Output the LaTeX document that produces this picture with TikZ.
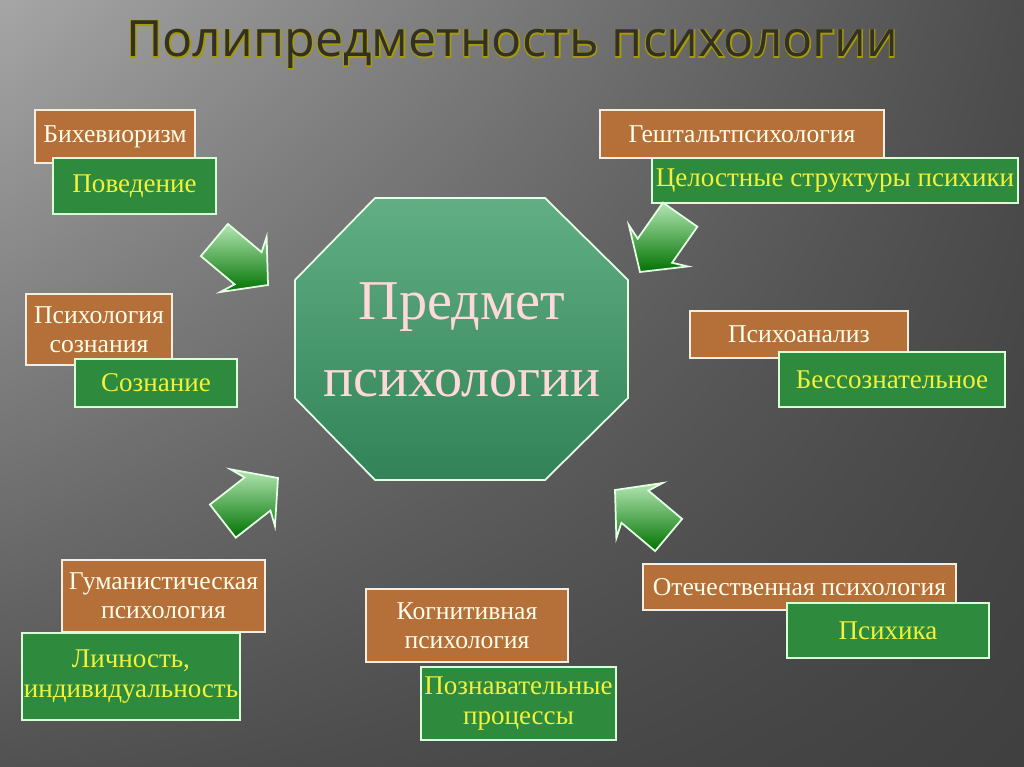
\documentclass[tikz,border=0pt]{standalone}
\usepackage{fontspec}
\usetikzlibrary{shadings}
\setmainfont{Liberation Serif}
\newfontfamily\titlefont{Open Sans}
\newfontfamily\titleglow[FakeBold=4]{Open Sans}
\definecolor{brn}{HTML}{B5703A}
\definecolor{grn}{HTML}{2E8B3E}
\definecolor{oct}{HTML}{3A9A66}
\definecolor{ytext}{HTML}{F2F23A}
\begin{document}
\begin{tikzpicture}[x=0.02cm,y=-0.02cm,
  brownbox/.style={draw=white!85!brown,line width=0.8pt,fill=brn,text=white!92!yellow,font=\fontsize{14.6}{16.5}\selectfont,align=center,inner sep=0pt},
  greenbox/.style={draw=white!85!green,line width=0.8pt,fill=grn,text=ytext,font=\fontsize{15.4}{17.5}\selectfont,align=center,inner sep=0pt},
  bigarrow/.style={draw=white!90!green,line width=1pt,top color=green!25!white!80!gray,bottom color=green!45!black}]
\shade[upper left=black!35,upper right=black!70,lower left=black!68,lower right=black!75] (0,0) rectangle (1024,767);
\useasboundingbox (0,0) rectangle (1024,767);
% title
\node[text=olive!80!yellow,font=\titleglow\fontsize{28.5}{30}\selectfont] at (512,45) {Полипредметность психологии};
\node[text=black!85!olive,font=\titlefont\fontsize{28.5}{30}\selectfont] (title) at (512,45) {Полипредметность психологии};
% octagon
\shade[draw=white!90!green,line width=1pt,top color=oct!80!white,bottom color=oct!85!black] (375,198) -- (545,198) -- (628,280) -- (628,398) -- (545,480) -- (375,480) -- (295,398) -- (295,280) -- cycle;
\node[text=white!85!red,font=\fontsize{32}{44}\selectfont,align=center] (center) at (462,340) {Предмет\\психологии};
% boxes
\node[brownbox,minimum width=3.2cm,minimum height=1.06cm] (b1) at (115,136.5) {Бихевиоризм};
\node[greenbox,minimum width=3.26cm,minimum height=1.12cm] (g1) at (134.5,186) {Поведение};
\node[brownbox,minimum width=5.68cm,minimum height=0.96cm] (b2) at (742,134) {Гештальтпсихология};
\node[greenbox,minimum width=7.32cm,minimum height=0.9cm] (g2) at (835,180.5) {Целостные структуры психики};
\node[brownbox,minimum width=2.92cm,minimum height=1.42cm] (b3) at (99,329.5) {Психология\\сознания};
\node[greenbox,minimum width=3.24cm,minimum height=0.96cm] (g3) at (156,383) {Сознание};
\node[brownbox,minimum width=4.36cm,minimum height=0.94cm] (b4) at (799,334.5) {Психоанализ};
\node[greenbox,minimum width=4.52cm,minimum height=1.1cm] (g4) at (892,379.5) {Бессознательное};
\node[brownbox,minimum width=4.06cm,minimum height=1.44cm] (b5) at (163.5,596) {Гуманистическая\\психология};
\node[greenbox,minimum width=4.36cm,minimum height=1.74cm] (g5) at (131,676.5) {Личность,\\индивидуальность};
\node[brownbox,minimum width=4.04cm,minimum height=1.46cm] (b6) at (467,625.5) {Когнитивная\\психология};
\node[greenbox,minimum width=3.9cm,minimum height=1.46cm] (g6) at (518.5,703.5) {Познавательные\\процессы};
\node[brownbox,minimum width=6.26cm,minimum height=0.92cm] (b7) at (799.5,587) {Отечественная психология};
\node[greenbox,minimum width=4.04cm,minimum height=1.1cm] (g7) at (888,630.5) {Психика};
% arrows
\foreach \px/\py/\ang in {268/285/-40, 640/272/-125, 278/478/38, 615/490/140}
  \draw[bigarrow,shift={(\px,\py)},rotate=\ang] (0,0) -- (-32,36) -- (-26,21) -- (-70,21) -- (-70,-21) -- (-26,-21) -- (-32,-36) -- cycle;
\end{tikzpicture}
\end{document}
